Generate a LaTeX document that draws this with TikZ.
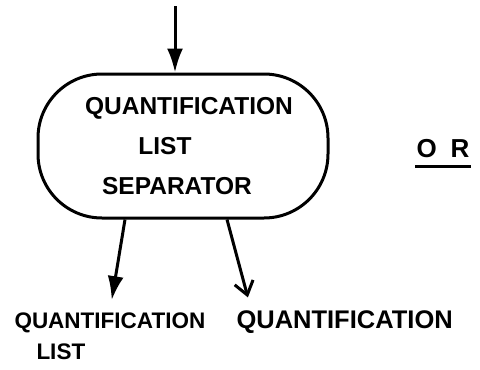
\documentclass[tikz,border=0pt]{standalone}
\usepackage{fontspec}
\setmainfont{Liberation Sans}
\usetikzlibrary{arrows.meta,positioning}

\begin{document}
\begin{tikzpicture}[x=1pt,y=-1pt,line width=3pt,
    sepbox/.style={draw,rounded corners=64pt,minimum width=290pt,minimum height=144pt,
      align=center,font=\bfseries\fontsize{24.5}{40}\selectfont},
    lbl/.style={inner sep=0pt,font=\bfseries\fontsize{22.5}{31}\selectfont},
    fillhead/.style={-{Latex[length=24pt,width=16pt]}},
    openhead/.style={-{Straight Barb[length=13pt,width=19pt]}}]
  \useasboundingbox[fill=white] (0,0) rectangle (480,370);
  \node[sepbox] (sep) at (183,146) {\rule{12pt}{0pt}QUANTIFICATION\\LIST\rule{36pt}{0pt}\\SEPARATOR\rule{12pt}{0pt}};
  \coordinate (in) at (175,6);
  \node[lbl,anchor=north west,align=left] (qlist) at (13,311) {QUANTIFICATION\\\hspace*{22pt}LIST};
  \node[lbl,anchor=north west,font=\bfseries\fontsize{25.5}{31}\selectfont] (quant) at (235,309) {QUANTIFICATION};
  \node[lbl,font=\bfseries\fontsize{26}{30}\selectfont] (or) at (443,149) {O\hspace{14pt}R};
  \draw[fillhead] (in) -- (in |- sep.north);
  \draw[fillhead,shorten >=11pt] ([xshift=-58pt]sep.south) -- (qlist.north);
  \draw[openhead,shorten >=12pt] ([xshift=44pt]sep.south) -- ([xshift=16pt]quant.north west);
  \draw ([yshift=-9pt]or.base west) -- ([yshift=-9pt]or.base east);
\end{tikzpicture}
\end{document}
